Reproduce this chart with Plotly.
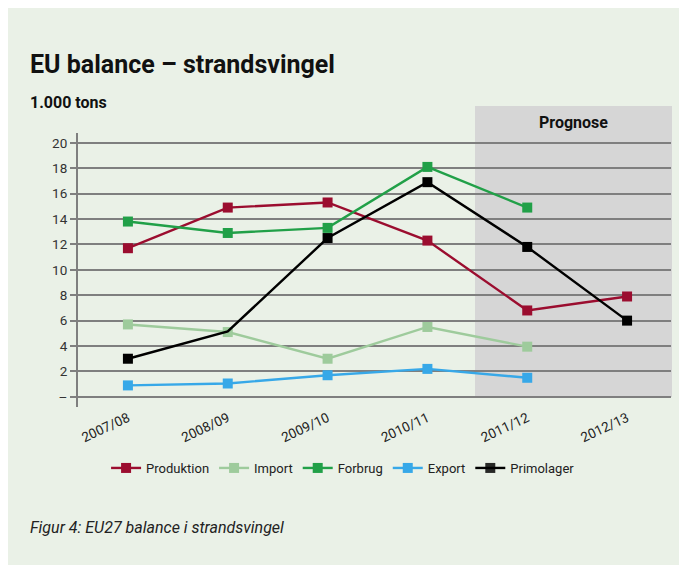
import plotly.graph_objects as go

categories = ["2007/08", "2008/09", "2009/10", "2010/11", "2011/12", "2012/13"]
produktion = [11.7, 14.9, 15.3, 12.3, 6.8, 7.9]
import_vals = [5.7, 5.1, 3.0, 5.5, 3.95, None]
forbrug = [13.8, 12.9, 13.3, 18.1, 14.9, None]
export_vals = [0.9, 1.05, 1.7, 2.2, 1.5, None]
primolager = [3.0, 5.15, 12.5, 16.9, 11.8, 6.0]

y_tickvals = [0, 2, 4, 6, 8, 10, 12, 14, 16, 18, 20]
y_ticktext = ["–", "2", "4", "6", "8", "10", "12", "14", "16", "18", "20"]

series = [
    ("Produktion", produktion, "#9b0d2f"),
    ("Import", import_vals, "#9ecb9c"),
    ("Forbrug", forbrug, "#21a048"),
    ("Export", export_vals, "#37a8e8"),
    ("Primolager", primolager, "#000000"),
]

FONT = "Roboto"
fig = go.Figure()
for name, vals, col in series:
    opac = 1
    if name == "Primolager":
        opac = [1, 0, 1, 1, 1, 1]
    fig.add_trace(go.Scatter(
        x=categories, y=vals, name=name, mode="lines+markers",
        line=dict(color=col, width=2.4),
        marker=dict(symbol="square", size=10, color=col, opacity=opac),
        connectgaps=False,
    ))

# plot area (figure coords): x 70..663, y 125..399
fig.update_layout(
    width=687, height=565,
    margin=dict(l=70, r=24, t=125, b=166),
    paper_bgcolor="#eaf1e7",
    plot_bgcolor="rgba(0,0,0,0)",
    font=dict(family=FONT, color="#333333", size=13),
    showlegend=True,
    legend=dict(orientation="h", x=0.447, xanchor="center", y=-0.2226, yanchor="middle",
                font=dict(size=13, color="#222222"), itemwidth=30, bgcolor="rgba(0,0,0,0)"),
    xaxis=dict(type="category", range=[-0.5, 5.44], showgrid=False, zeroline=False,
               showline=False, ticks="", tickangle=-25, tickfont=dict(size=13.5, color="#222222")),
    yaxis=dict(range=[-0.8, 20.77], tickvals=y_tickvals, ticktext=y_ticktext,
               showgrid=True, gridcolor="#7f7f7f", gridwidth=2, zeroline=False,
               showline=True, linecolor="#7f7f7f", linewidth=2,
               ticks="outside", ticklen=6, tickwidth=2, tickcolor="#7f7f7f",
               tickfont=dict(size=13.5, color="#333333")),
    shapes=[
        dict(type="rect", xref="x domain", yref="y domain", x0=0.6695, x1=1.0017, y0=0.0365, y1=1.0985,
             fillcolor="#d6d6d6", line=dict(width=0), layer="below"),
    ],
    annotations=[
        dict(text="<b>EU balance – strandsvingel</b>", xref="paper", yref="paper",
             x=-0.0843, y=1.2518, xanchor="left", yanchor="middle", showarrow=False,
             font=dict(family=FONT, size=25, color="#111111")),
        dict(text="<b>1.000 tons</b>", xref="paper", yref="paper",
             x=-0.0843, y=1.1095, xanchor="left", yanchor="middle", showarrow=False,
             font=dict(family=FONT, size=16, color="#111111")),
        dict(text="<b>Prognose</b>", xref="paper", yref="paper",
             x=0.8356, y=1.040, xanchor="center", yanchor="middle", showarrow=False,
             font=dict(family=FONT, size=16, color="#111111")),
        dict(text="<i>Figur 4: EU27 balance i strandsvingel</i>", xref="paper", yref="paper",
             x=-0.0843, y=-0.4416, xanchor="left", yanchor="middle", showarrow=False,
             font=dict(family=FONT, size=16, color="#222222")),
    ],
)

fig.write_html("out.html")
